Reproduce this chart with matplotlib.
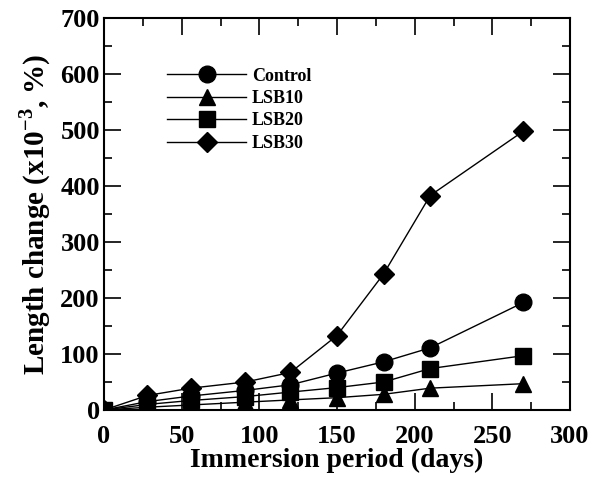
import matplotlib.pyplot as plt
from matplotlib.ticker import MultipleLocator

plt.rcParams['font.family'] = ['Liberation Serif', 'DejaVu Serif']
plt.rcParams['font.weight'] = 'bold'
plt.rcParams['mathtext.fontset'] = 'custom'
plt.rcParams['mathtext.rm'] = 'Liberation Serif:bold'
plt.rcParams['mathtext.bf'] = 'Liberation Serif:bold'

days = [0, 28, 56, 91, 120, 150, 180, 210, 270]
control = [0, 15, 25, 35, 45, 66, 86, 111, 192]
lsb10 = [0, 5, 9, 14, 18, 22, 28, 39, 47]
lsb20 = [0, 10, 17, 24, 32, 40, 50, 74, 97]
lsb30 = [0, 26, 39, 50, 67, 133, 243, 383, 498]

fig = plt.figure(figsize=(5.98, 4.80), dpi=100)
ax = fig.add_axes([104 / 598, 70 / 480, 466 / 598, 392 / 480])

ax.plot(days, control, 'k-', marker='o', ms=12, lw=1.0, label='Control')
ax.plot(days, lsb10, 'k-', marker='^', ms=12, lw=1.0, label='LSB10')
ax.plot(days, lsb20, 'k-', marker='s', ms=11, lw=1.0, label='LSB20')
ax.plot(days, lsb30, 'k-', marker='D', ms=10, lw=1.0, label='LSB30')

ax.set_xlim(0, 300)
ax.set_ylim(0, 700)
ax.xaxis.set_major_locator(MultipleLocator(50))
ax.xaxis.set_minor_locator(MultipleLocator(25))
ax.yaxis.set_major_locator(MultipleLocator(100))
ax.yaxis.set_minor_locator(MultipleLocator(50))
ax.tick_params(which='both', direction='in', top=True, right=True, width=1.2)
ax.tick_params(which='major', length=12, labelsize=19)
ax.tick_params(axis='x', which='major', pad=11)
ax.tick_params(axis='y', which='major', pad=3)
ax.tick_params(which='minor', length=6)
for s in ax.spines.values():
    s.set_linewidth(1.5)
for lab in ax.get_xticklabels() + ax.get_yticklabels():
    lab.set_fontweight('bold')

ax.set_xlabel('Immersion period (days)', fontsize=20, fontweight='bold', labelpad=0)
ax.set_ylabel('Length change (x10$^{-3}$, %)', fontsize=21, fontweight='bold', labelpad=5)

leg = ax.legend(loc='upper left', bbox_to_anchor=(0.1, 0.915), frameon=False,
                prop={'weight': 'bold', 'size': 13}, handlelength=4.4,
                labelspacing=0.3, handletextpad=0.3)

fig.savefig('out.png', dpi=100)
